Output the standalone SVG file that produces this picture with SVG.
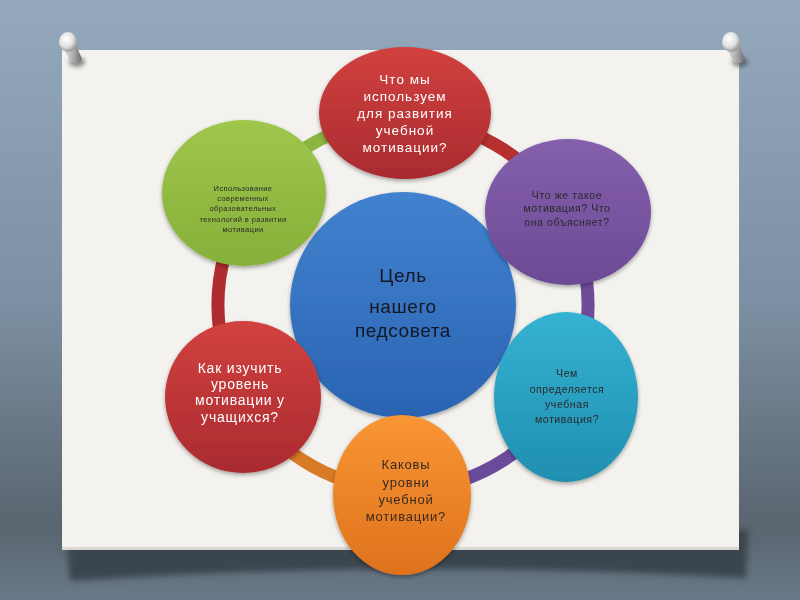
<svg xmlns="http://www.w3.org/2000/svg" width="800" height="600" viewBox="0 0 800 600">
<defs>
<linearGradient id="bg" x1="0" y1="0" x2="0" y2="1">
<stop offset="0" stop-color="#95a9bc"/>
<stop offset="0.5" stop-color="#7d90a3"/>
<stop offset="0.88" stop-color="#59656f"/>
<stop offset="1" stop-color="#6a7a8a"/>
</linearGradient>
<linearGradient id="gRed" x1="0" y1="0" x2="0" y2="1"><stop offset="0" stop-color="#d2413f"/><stop offset="1" stop-color="#a92b2f"/></linearGradient>
<linearGradient id="gGreen" x1="0" y1="0" x2="0" y2="1"><stop offset="0" stop-color="#a0c64c"/><stop offset="1" stop-color="#86b03a"/></linearGradient>
<linearGradient id="gPurple" x1="0" y1="0" x2="0" y2="1"><stop offset="0" stop-color="#8560ac"/><stop offset="1" stop-color="#6c4a96"/></linearGradient>
<linearGradient id="gTeal" x1="0" y1="0" x2="0" y2="1"><stop offset="0" stop-color="#36b2d2"/><stop offset="1" stop-color="#1f8fb0"/></linearGradient>
<linearGradient id="gOrange" x1="0" y1="0" x2="0" y2="1"><stop offset="0" stop-color="#f99634"/><stop offset="1" stop-color="#de721e"/></linearGradient>
<linearGradient id="gBlue" x1="0" y1="0" x2="0" y2="1"><stop offset="0" stop-color="#4282cf"/><stop offset="1" stop-color="#2a64b2"/></linearGradient>
<filter id="sh" x="-20%" y="-20%" width="140%" height="140%">
<feGaussianBlur in="SourceAlpha" stdDeviation="2"/>
<feOffset dx="0" dy="2" result="b"/>
<feComponentTransfer><feFuncA type="linear" slope="0.35"/></feComponentTransfer>
<feMerge><feMergeNode/><feMergeNode in="SourceGraphic"/></feMerge>
</filter>
<filter id="blur" x="-10%" y="-50%" width="120%" height="200%"><feGaussianBlur stdDeviation="3"/></filter>
<filter id="pblur" x="-50%" y="-50%" width="200%" height="200%"><feGaussianBlur stdDeviation="2"/></filter>
<radialGradient id="pinHead" cx="0.4" cy="0.35" r="0.7"><stop offset="0" stop-color="#ffffff"/><stop offset="0.55" stop-color="#e2e2e2"/><stop offset="1" stop-color="#8a8a8a"/></radialGradient>
<linearGradient id="pinShaft" x1="0" y1="0" x2="1" y2="0"><stop offset="0" stop-color="#e8e8e8"/><stop offset="0.5" stop-color="#b5b5b5"/><stop offset="1" stop-color="#6e6e6e"/></linearGradient>
</defs>
<style>
.t{font-family:"Liberation Sans",Arial,sans-serif;text-anchor:middle}
.w{fill:#ffffff}
.d{fill:#2a2a2a}
.ring{fill:none;stroke-width:13}
</style>
<rect x="0" y="0" width="800" height="600" fill="url(#bg)"/>
<path d="M66,530 L748,530 L746,578 Q405,558 70,581 Z" fill="#3b444d" filter="url(#blur)"/>
<rect x="62" y="50" width="677" height="500" fill="#f3f2ee"/>
<rect x="62" y="547" width="677" height="3" fill="#d9d8d3"/>

<g id="pins">
<g id="pin-left">
<ellipse cx="77" cy="62" rx="8" ry="5" fill="#333" opacity="0.55" filter="url(#pblur)"/>
<path d="M62,46 L71,62 Q77,66 82,59 L75,42 Z" fill="url(#pinShaft)"/>
<ellipse cx="68" cy="42" rx="9" ry="10" fill="url(#pinHead)"/>
</g>
<g id="pin-right">
<ellipse cx="740" cy="62" rx="8" ry="5" fill="#333" opacity="0.55" filter="url(#pblur)"/>
<path d="M725,46 L734,62 Q740,66 745,59 L738,42 Z" fill="url(#pinShaft)"/>
<ellipse cx="731" cy="42" rx="9" ry="10" fill="url(#pinHead)"/>
</g>
</g>

<g id="connectors">
<path class="ring" stroke="#8db542" d="M243,212 A185,185 0 0 1 403,120"/>
<path class="ring" stroke="#b6302f" d="M403,120 A185,185 0 0 1 563,212"/>
<path class="ring" stroke="#6e4c98" d="M563,212 A185,185 0 0 1 563,398"/>
<path class="ring" stroke="#6a4a9a" d="M563,398 A185,185 0 0 1 420,489"/>
<path class="ring" stroke="#36b0d0" d="M420,489 A185,185 0 0 1 386,489"/>
<path class="ring" stroke="#d87a26" d="M386,489 A185,185 0 0 1 243,398"/>
<path class="ring" stroke="#b02d2f" d="M243,398 A185,185 0 0 1 243,212"/>
</g>

<g id="node-center" filter="url(#sh)">
<ellipse cx="403" cy="305" rx="113" ry="113" fill="url(#gBlue)"/>
<text class="t" style="fill:#141824;font-size:19px;letter-spacing:0.6px"><tspan x="403" y="282">Цель</tspan><tspan x="403" y="313">нашего</tspan><tspan x="403" y="337">педсовета</tspan></text>
</g>

<g id="node-red-top" filter="url(#sh)">
<ellipse cx="405" cy="113" rx="86" ry="66" fill="url(#gRed)"/>
<text class="t w" style="font-size:13.5px;letter-spacing:1px"><tspan x="405" y="84">Что мы</tspan><tspan x="405" y="101">используем</tspan><tspan x="405" y="118">для развития</tspan><tspan x="405" y="135">учебной</tspan><tspan x="405" y="152">мотивации?</tspan></text>
</g>

<g id="node-purple" filter="url(#sh)">
<ellipse cx="568" cy="212" rx="83" ry="73" fill="url(#gPurple)"/>
<text class="t d" style="font-size:10.5px;letter-spacing:0.6px"><tspan x="567" y="199">Что же такое</tspan><tspan x="567" y="212">мотивация? Что</tspan><tspan x="567" y="226">она объясняет?</tspan></text>
</g>

<g id="node-teal" filter="url(#sh)">
<ellipse cx="566" cy="397" rx="72" ry="85" fill="url(#gTeal)"/>
<text class="t d" style="font-size:10.5px;letter-spacing:0.6px"><tspan x="567" y="377">Чем</tspan><tspan x="567" y="393">определяется</tspan><tspan x="567" y="408">учебная</tspan><tspan x="567" y="423">мотивация?</tspan></text>
</g>

<g id="node-orange" filter="url(#sh)">
<ellipse cx="402" cy="495" rx="69" ry="80" fill="url(#gOrange)"/>
<text class="t" style="fill:#3a2a1c;font-size:13px;letter-spacing:0.8px"><tspan x="406" y="469">Каковы</tspan><tspan x="406" y="487">уровни</tspan><tspan x="406" y="504">учебной</tspan><tspan x="406" y="521">мотивации?</tspan></text>
</g>

<g id="node-red-left" filter="url(#sh)">
<ellipse cx="243" cy="397" rx="78" ry="76" fill="url(#gRed)"/>
<text class="t w" style="font-size:14px;letter-spacing:0.8px"><tspan x="240" y="373">Как изучить</tspan><tspan x="240" y="389">уровень</tspan><tspan x="240" y="405">мотивации у</tspan><tspan x="240" y="422">учащихся?</tspan></text>
</g>

<g id="node-green" filter="url(#sh)">
<ellipse cx="244" cy="193" rx="82" ry="73" fill="url(#gGreen)"/>
<text class="t d" style="font-size:7.5px;letter-spacing:0.4px"><tspan x="243" y="191">Использование</tspan><tspan x="243" y="201">современных</tspan><tspan x="243" y="211">образовательных</tspan><tspan x="243" y="222">технологий в  развитии</tspan><tspan x="243" y="232">мотивации</tspan></text>
</g>
</svg>
